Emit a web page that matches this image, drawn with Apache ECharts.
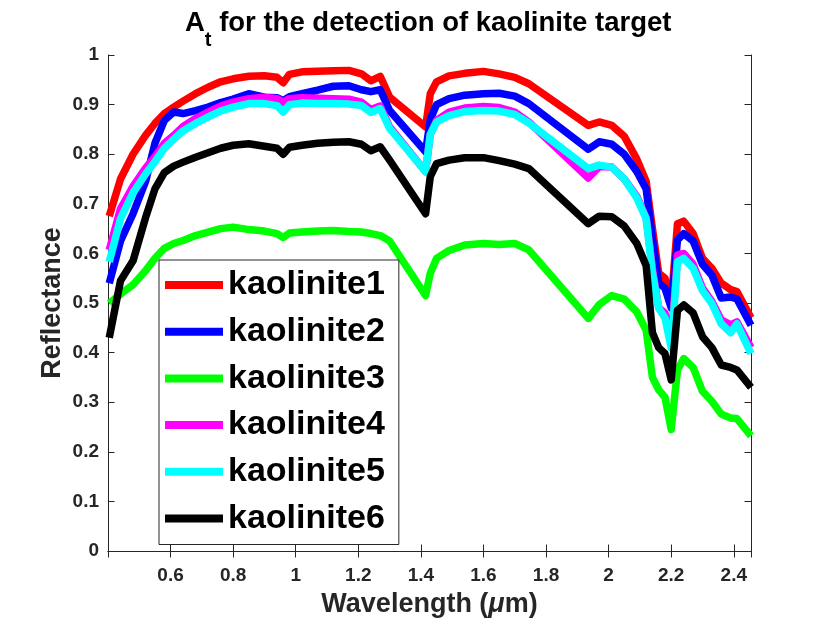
<!DOCTYPE html>
<html>
<head>
<meta charset="utf-8">
<script src="https://cdn.jsdelivr.net/npm/echarts@6/dist/echarts.min.js"></script>
<style>
html,body{margin:0;padding:0;background:#fff;}
#chart{width:830px;height:623px;}
</style>
</head>
<body>
<div id="chart"></div>
<script>
// Wavelengths (µm)
const wavelengths = [0.404,0.44,0.48,0.52,0.55,0.58,0.61,0.64,0.68,0.72,0.76,0.80,0.85,0.90,0.94,0.96,0.98,1.02,1.07,1.12,1.17,1.21,1.24,1.27,1.30,1.415,1.43,1.45,1.49,1.54,1.60,1.65,1.70,1.745,1.935,1.97,2.01,2.05,2.09,2.12,2.14,2.16,2.18,2.20,2.22,2.24,2.27,2.30,2.33,2.36,2.39,2.41,2.455];

const kaolinite1 = [0.675,0.75,0.80,0.838,0.862,0.882,0.895,0.907,0.922,0.935,0.946,0.952,0.957,0.958,0.955,0.944,0.961,0.966,0.967,0.968,0.969,0.962,0.948,0.957,0.915,0.855,0.922,0.946,0.958,0.963,0.967,0.962,0.955,0.942,0.858,0.865,0.858,0.836,0.79,0.745,0.65,0.56,0.55,0.50,0.66,0.665,0.64,0.59,0.57,0.54,0.527,0.523,0.47];
const kaolinite2 = [0.54,0.625,0.68,0.745,0.822,0.868,0.885,0.882,0.888,0.895,0.904,0.911,0.922,0.915,0.914,0.908,0.916,0.922,0.929,0.937,0.938,0.93,0.926,0.93,0.888,0.805,0.87,0.90,0.912,0.919,0.922,0.923,0.917,0.902,0.81,0.825,0.82,0.80,0.765,0.73,0.63,0.54,0.53,0.49,0.627,0.64,0.625,0.578,0.556,0.51,0.512,0.508,0.455];
const kaolinite3 = [0.499,0.518,0.537,0.565,0.59,0.61,0.62,0.626,0.636,0.643,0.65,0.653,0.648,0.645,0.64,0.632,0.641,0.643,0.645,0.646,0.644,0.643,0.64,0.636,0.625,0.515,0.56,0.59,0.606,0.617,0.62,0.618,0.62,0.607,0.469,0.497,0.515,0.508,0.482,0.445,0.35,0.325,0.31,0.245,0.365,0.388,0.37,0.322,0.302,0.276,0.268,0.267,0.232];
const kaolinite4 = [0.607,0.69,0.735,0.772,0.795,0.822,0.838,0.856,0.872,0.885,0.897,0.905,0.912,0.915,0.912,0.905,0.912,0.914,0.913,0.912,0.911,0.905,0.89,0.897,0.855,0.765,0.84,0.868,0.885,0.893,0.896,0.894,0.885,0.865,0.752,0.775,0.774,0.75,0.715,0.672,0.57,0.49,0.48,0.42,0.597,0.60,0.578,0.53,0.503,0.466,0.456,0.462,0.41];
const kaolinite5 = [0.583,0.67,0.722,0.76,0.785,0.812,0.83,0.847,0.862,0.875,0.887,0.895,0.902,0.902,0.898,0.885,0.90,0.903,0.902,0.902,0.901,0.898,0.884,0.892,0.852,0.765,0.84,0.865,0.878,0.886,0.888,0.887,0.88,0.863,0.771,0.778,0.774,0.75,0.712,0.67,0.56,0.49,0.47,0.41,0.583,0.59,0.57,0.525,0.499,0.458,0.44,0.458,0.398];
const kaolinite6 = [0.43,0.545,0.585,0.672,0.73,0.763,0.776,0.784,0.794,0.803,0.812,0.818,0.821,0.816,0.812,0.80,0.814,0.818,0.822,0.824,0.825,0.82,0.807,0.815,0.788,0.68,0.755,0.781,0.788,0.793,0.793,0.787,0.78,0.771,0.66,0.675,0.674,0.655,0.62,0.575,0.44,0.41,0.398,0.345,0.485,0.496,0.48,0.432,0.41,0.375,0.37,0.365,0.33];

const seriesNames = ['kaolinite1','kaolinite2','kaolinite3','kaolinite4','kaolinite5','kaolinite6'];
const seriesValues = [kaolinite1,kaolinite2,kaolinite3,kaolinite4,kaolinite5,kaolinite6];
const seriesColors = ['#ff0000','#0000ff','#00ff00','#ff00ff','#00ffff','#000000'];

const FONT = '"Liberation Sans", Arial, Helvetica, sans-serif';
const AX = '#262626';

const chart = echarts.init(document.getElementById('chart'), null, {renderer: 'canvas'});

const xLabelFmt = function (v) {
  const r = Math.round(v * 10) / 10;
  if (Math.abs(v - r) > 1e-6 || v < 0.5 || v > 2.41) return '';
  return String(r);
};

const baseX = {
  type: 'value', min: 0.4, max: 2.455, interval: 0.2,
  axisLine: {show: true, lineStyle: {color: AX, width: 1}},
  axisTick: {show: true, inside: true, length: 6.5, lineStyle: {color: AX}},
  splitLine: {show: false}
};
const baseY = {
  type: 'value', min: 0, max: 1, interval: 0.1,
  axisLine: {show: true, lineStyle: {color: AX, width: 1}},
  axisTick: {show: true, inside: true, length: 6.5, lineStyle: {color: AX}},
  splitLine: {show: false}
};

const option = {
  animation: false,
  backgroundColor: '#ffffff',
  title: {
    text: '{a|A}{s|t}{a| for the detection of kaolinite target}',
    left: 185, top: 9, padding: 0,
    textStyle: {
      rich: {
        a: {fontFamily: FONT, fontSize: 27.5, fontWeight: 'bold', color: '#000', lineHeight: 30, verticalAlign: 'top'},
        s: {fontFamily: FONT, fontSize: 20, fontWeight: 'bold', color: '#000', lineHeight: 20, padding: [21, 0, 0, 0], verticalAlign: 'top'}
      }
    }
  },
  grid: {left: 108, right: 79, top: 55, bottom: 72, containLabel: false},
  legend: {
    orient: 'vertical', left: 159, top: 260,
    padding: [5, 14, 6, 6],
    itemWidth: 58, itemHeight: 8, itemGap: 6.7,
    icon: 'rect',
    itemStyle: {borderWidth: 0},
    backgroundColor: '#ffffff', borderColor: AX, borderWidth: 1,
    textStyle: {fontFamily: FONT, fontSize: 34, fontWeight: 'bold', color: '#000', lineHeight: 40},
    data: seriesNames
  },
  xAxis: [
    Object.assign({}, baseX, {
      position: 'bottom',
      name: '{b|Wavelength (}{i|μ}{b|m)}',
      nameLocation: 'middle', nameGap: 40,
      nameTextStyle: {
        rich: {
          b: {fontFamily: FONT, fontSize: 27, fontWeight: 'bold', color: AX},
          i: {fontFamily: FONT, fontSize: 27, fontWeight: 'bold', fontStyle: 'italic', color: AX}
        }
      },
      axisLabel: {show: true, margin: 15, formatter: xLabelFmt, fontFamily: FONT, fontSize: 19, fontWeight: 'bold', color: AX, showMinLabel: false, showMaxLabel: false}
    }),
    Object.assign({}, baseX, {position: 'top', axisLabel: {show: false}})
  ],
  yAxis: [
    Object.assign({}, baseY, {
      position: 'left',
      name: 'Reflectance',
      nameLocation: 'middle', nameGap: 42,
      nameMoveOverlap: false,
      nameTextStyle: {fontFamily: FONT, fontSize: 27, fontWeight: 'bold', color: AX},
      axisLabel: {show: true, margin: 9, fontFamily: FONT, fontSize: 19, fontWeight: 'bold', color: AX}
    }),
    Object.assign({}, baseY, {position: 'right', axisLabel: {show: false}})
  ],
  series: seriesNames.map(function (name, k) {
    return {
      name: name,
      type: 'line',
      xAxisIndex: 0, yAxisIndex: 0,
      showSymbol: false,
      symbol: 'none',
      color: seriesColors[k],
      lineStyle: {width: 7.5, color: seriesColors[k], join: 'round', cap: 'butt'},
      itemStyle: {color: seriesColors[k]},
      data: wavelengths.map(function (w, i) { return [w, seriesValues[k][i]]; })
    };
  })
};

chart.setOption(option);
</script>
</body>
</html>
